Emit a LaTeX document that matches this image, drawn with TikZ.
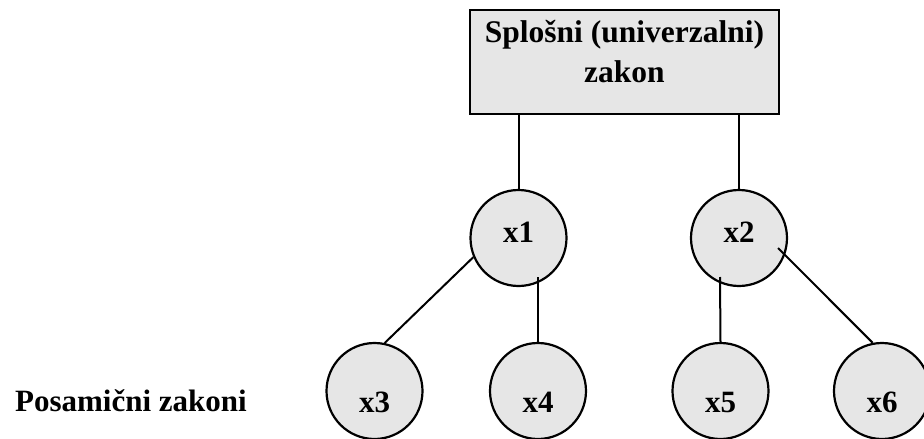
\documentclass[tikz,border=0pt]{standalone}
\usepackage{fontspec}
\setmainfont{Liberation Serif}
\usetikzlibrary{calc}
\definecolor{fillgray}{RGB}{230,230,230}
\begin{document}
\begin{tikzpicture}[x=1pt,y=-1pt,
  lawbox/.style={draw, fill=fillgray, line width=2.6pt, minimum width=309pt,
    minimum height=104pt, inner sep=0pt},
  lawtext/.style={font=\fontsize{31.5}{36}\selectfont\bfseries, anchor=base, inner sep=0pt},
  case/.style={circle, draw, fill=fillgray, line width=2.2pt, minimum size=96pt,
    inner sep=0pt, font=\fontsize{31}{36}\selectfont\bfseries, text depth=0pt},
  upper/.style={case, text height=8pt},
  lower/.style={case, text height=42pt},
  link/.style={line width=2pt},
  caption/.style={font=\fontsize{31}{36}\selectfont\bfseries, anchor=base east, inner sep=0pt}]
  \useasboundingbox (0,0) rectangle (924,439);

  % general law
  \node[lawbox] (law) at (624.5,62) {};
  \node[lawtext] (lawA) at (624.5,42) {Splošni (univerzalni)};
  \node[lawtext] (lawB) at (624.5,82) {zakon};

  % intermediate and particular laws
  \node[upper] (x1) at (518.5,238) {x1};
  \node[upper] (x2) at (739,238) {x2};
  \node[lower] (x3) at (374.5,391) {x3};
  \node[lower] (x4) at (538,391) {x4};
  \node[lower] (x5) at (720.5,391) {x5};
  \node[lower] (x6) at (882,391) {x6};

  \node[caption] (particular) at (247,411) {Posamični zakoni};

  % connectors
  \draw[link] (x1.north) -- (x1.north |- law.south);
  \draw[link] (x2.north) -- (x2.north |- law.south);
  \draw[link] (x1.203) -- (x3.78);
  \draw[link] ($(x1.center)+(19.5,39)$) -- (x4.north);
  \draw[link] ($(x2.center)+(-19,39)$) -- (x5.north);
  \draw[link] ($(x2.center)+(39,10)$) -- (x6.101);
\end{tikzpicture}
\end{document}
